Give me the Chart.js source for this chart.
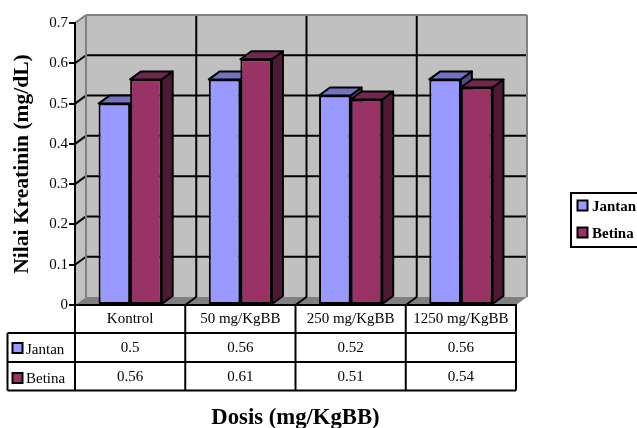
<!DOCTYPE html>
<html>
<head>
<meta charset="utf-8">
<title>Nilai Kreatinin</title>
<script src="https://cdn.jsdelivr.net/npm/chart.js@4/dist/chart.umd.min.js"></script>
<style>
  html, body { margin: 0; padding: 0; background: #fff; }
  canvas { display: block; }
</style>
</head>
<body>
<canvas id="kreatinin" width="637" height="428"></canvas>
<script>
var categories = ["Kontrol", "50 mg/KgBB", "250 mg/KgBB", "1250 mg/KgBB"];
var jantan = [0.5, 0.56, 0.52, 0.56];
var betina = [0.56, 0.61, 0.51, 0.54];
var yTicks = [0, 0.1, 0.2, 0.3, 0.4, 0.5, 0.6, 0.7];

var serif = "'Liberation Serif', 'Times New Roman', serif";
var DX = 11, DY = 8;   // depth of the 3D box
var colors = {
  jantan: { front: "#9999ff", top: "#7373bf", side: "#4d4d80" },
  betina: { front: "#993366", top: "#732650", side: "#4d1933" }
};

function poly(ctx, pts, fill, stroke, lw) {
  ctx.beginPath();
  ctx.moveTo(pts[0][0], pts[0][1]);
  for (var i = 1; i < pts.length; i++) ctx.lineTo(pts[i][0], pts[i][1]);
  ctx.closePath();
  if (fill) { ctx.fillStyle = fill; ctx.fill(); }
  if (stroke) { ctx.strokeStyle = stroke; ctx.lineWidth = lw; ctx.stroke(); }
}

function line(ctx, x1, y1, x2, y2, color, lw) {
  ctx.beginPath();
  ctx.moveTo(x1, y1);
  ctx.lineTo(x2, y2);
  ctx.strokeStyle = color;
  ctx.lineWidth = lw;
  ctx.stroke();
}

function swatch(ctx, x, y, s, color) {
  ctx.fillStyle = color;
  ctx.strokeStyle = "#000";
  ctx.lineWidth = 2;
  ctx.fillRect(x, y, s, s);
  ctx.strokeRect(x, y, s, s);
}

// walls, floor, gridlines and the top/side faces of the bars
var box3d = {
  id: "box3d",
  beforeDatasetsDraw: function (chart) {
    var ctx = chart.ctx, a = chart.chartArea;
    var y = chart.scales.y;
    ctx.save();
    // back wall + left wall
    poly(ctx, [[a.left + DX, a.top - DY], [a.right + DX, a.top - DY], [a.right + DX, a.bottom - DY], [a.left + DX, a.bottom - DY]], "#c0c0c0");
    poly(ctx, [[a.left, a.top], [a.left + DX, a.top - DY], [a.left + DX, a.bottom - DY], [a.left, a.bottom]], "#c0c0c0");
    poly(ctx, [[a.left, a.bottom], [a.right, a.bottom], [a.right + DX, a.bottom - DY], [a.left + DX, a.bottom - DY]], "#808080");

    // horizontal gridlines
    yTicks.forEach(function (t) {
      var py = y.getPixelForValue(t);
      if (t > 0 && t < 0.7) {
        line(ctx, a.left, py, a.left + DX, py - DY, "#000", 2);
        line(ctx, a.left + DX, py - DY, a.right + DX, py - DY, "#000", 2);
      }
    });
    // vertical gridlines
    var w = (a.right - a.left) / categories.length;
    for (var i = 1; i < categories.length; i++) {
      var px = a.left + w * i;
      line(ctx, px + DX, a.top - DY, px + DX, a.bottom - DY, "#000", 2);
      line(ctx, px, a.bottom, px + DX, a.bottom - DY, "#000", 2);
    }
    // grey edges of the box
    ctx.lineJoin = "round";
    line(ctx, a.left, a.top, a.left + DX, a.top - DY, "#808080", 2);
    line(ctx, a.left + DX, a.top - DY, a.right + DX, a.top - DY, "#808080", 2);
    line(ctx, a.right + DX, a.top - DY, a.right + DX, a.bottom - DY, "#808080", 2);
    line(ctx, a.left + DX, a.top - DY, a.left + DX, a.bottom - DY, "#808080", 2);

    // top and side faces, front faces come from the datasets afterwards
    var sets = [colors.jantan, colors.betina];
    categories.forEach(function (c, i) {
      sets.forEach(function (col, d) {
        var b = chart.getDatasetMeta(d).data[i];
        var l = b.x - b.width / 2, r = b.x + b.width / 2;
        poly(ctx, [[r, b.y], [r + DX, b.y - DY], [r + DX, b.base - DY], [r, b.base]], col.side, "#000", 2);
        poly(ctx, [[l, b.y], [l + DX, b.y - DY], [r + DX, b.y - DY], [r, b.y]], col.top, "#000", 2);
      });
    });
    ctx.restore();
  },
  afterDraw: function (chart) {
    var ctx = chart.ctx, a = chart.chartArea;
    var w = (a.right - a.left) / categories.length;
    var rows = [a.bottom, 333, 362, 390.5];
    var tableLeft = 7.5;
    ctx.save();

    // data table under the axis
    for (var i = 0; i <= categories.length; i++) {
      line(ctx, a.left + w * i, rows[0], a.left + w * i, rows[3], "#000", 2);
    }
    line(ctx, tableLeft, rows[1], a.right, rows[1], "#000", 2);
    line(ctx, tableLeft, rows[2], a.right, rows[2], "#000", 2);
    line(ctx, tableLeft, rows[3], a.right, rows[3], "#000", 2);
    line(ctx, tableLeft, rows[1], tableLeft, rows[3], "#000", 2);

    ctx.fillStyle = "#000";
    ctx.font = "15px " + serif;
    ctx.textBaseline = "middle";
    ctx.textAlign = "center";
    categories.forEach(function (c, i) {
      var cx = a.left + w * (i + 0.5);
      ctx.fillText(String(jantan[i]), cx, 348);
      ctx.fillText(String(betina[i]), cx, 377);
    });
    ctx.textAlign = "left";
    ctx.fillText("Jantan", 26, 350);
    ctx.fillText("Betina", 26, 379);
    swatch(ctx, 12.5, 343, 10, colors.jantan.front);
    swatch(ctx, 12.5, 373, 10, colors.betina.front);

    // legend on the right, runs off the edge like the original
    ctx.strokeStyle = "#000";
    ctx.lineWidth = 2;
    ctx.strokeRect(571, 193, 80, 54);
    swatch(ctx, 577.5, 200.5, 10, colors.jantan.front);
    swatch(ctx, 577.5, 227.5, 10, colors.betina.front);
    ctx.fillStyle = "#000";
    ctx.font = "bold 15px " + serif;
    ctx.fillText("Jantan", 592, 207);
    ctx.fillText("Betina", 592, 234);
    ctx.restore();
  }
};

new Chart(document.getElementById("kreatinin"), {
  type: "bar",
  data: {
    labels: categories,
    datasets: [
      { label: "Jantan", data: jantan, backgroundColor: colors.jantan.front },
      { label: "Betina", data: betina, backgroundColor: colors.betina.front }
    ]
  },
  plugins: [box3d],
  options: {
    responsive: false,
    animation: false,
    layout: { padding: { left: 0, top: 23, right: 121, bottom: 0 } },
    datasets: {
      bar: {
        barPercentage: 1,
        categoryPercentage: 63 / 110,
        borderColor: "#000",
        borderWidth: 2,
        borderSkipped: false
      }
    },
    plugins: { legend: { display: false }, tooltip: { enabled: false } },
    scales: {
      x: {
        afterFit: function (s) { s.height = 123; },
        grid: { display: false, drawTicks: false },
        border: { color: "#000", width: 2, z: 1 },
        ticks: { color: "#000", font: { family: serif, size: 15 }, maxRotation: 0, autoSkip: false, padding: 5 },
        title: {
          display: true,
          text: "Dosis (mg/KgBB)",
          color: "#000",
          font: { family: serif, size: 22.7, weight: "bold", lineHeight: 0.9 },
          padding: 0
        }
      },
      y: {
        min: 0,
        max: 0.7,
        afterFit: function (s) { s.width = 75; },
        afterBuildTicks: function (s) { s.ticks = yTicks.map(function (v) { return { value: v }; }); },
        grid: { drawOnChartArea: false, drawTicks: true, tickLength: 6, tickColor: "#000", lineWidth: 2 },
        border: { color: "#000", width: 2, z: 1 },
        ticks: {
          color: "#000",
          font: { family: serif, size: 15 },
          padding: 1,
          callback: function (v) { return String(v); }
        },
        title: {
          display: true,
          text: "Nilai Kreatinin (mg/dL)",
          color: "#000",
          font: { family: serif, size: 21.5, weight: "bold", lineHeight: 1 },
          padding: { top: 12, bottom: 0 }
        }
      }
    }
  }
});
</script>
</body>
</html>
